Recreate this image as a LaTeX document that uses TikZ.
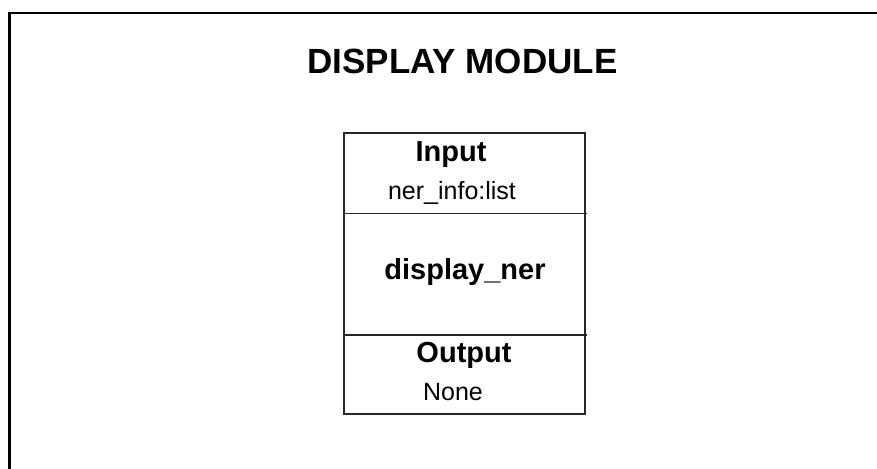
\documentclass[tikz,border=0pt]{standalone}
\usepackage{fontspec}
\setmainfont{Liberation Sans}
\begin{document}
\begin{tikzpicture}[x=1pt,y=-1pt,
  frameline/.style={line width=2.2pt, draw=black},
  boxline/.style={line width=1.3pt, draw=black!85},
  titletext/.style={font=\fontsize{35}{40}\selectfont\bfseries, anchor=base},
  headtext/.style={font=\fontsize{29}{34}\selectfont\bfseries, anchor=base},
  bodytext/.style={font=\fontsize{25}{30}\selectfont, anchor=base}]
  \useasboundingbox (0,0) rectangle (877,468);
  % page background
  \fill[white] (0,0) rectangle (877,468);
  % outer frame, running past the right and bottom edges
  \begin{scope}
    \clip (0,0) rectangle (877,468);
    \draw[frameline] (9.5,480) -- (9.5,13) -- (890,13);
  \end{scope}
  % title
  \node[titletext] (title) at (462.5,74) {DISPLAY MODULE};
  % module box with its three compartments
  \coordinate (tl) at (344,133);
  \coordinate (br) at (585,414);
  \draw[boxline] (tl) rectangle (br);
  \coordinate (d1l) at (344,213.5);
  \coordinate (d1r) at (587,213.5);
  \coordinate (d2l) at (344,335);
  \coordinate (d2r) at (587,335);
  \draw[boxline] (d1l) -- (d1r);
  \draw[boxline] (d2l) -- (d2r);
  % compartment texts
  \node[headtext] (inhead) at (451,161) {Input};
  \node[bodytext] (inval) at (452,199) {ner\_info:list};
  \node[headtext] (fname) at (465,279) {display\_ner};
  \node[headtext] (outhead) at (464,362) {Output};
  \node[bodytext] (outval) at (453,400) {None};
\end{tikzpicture}
\end{document}
